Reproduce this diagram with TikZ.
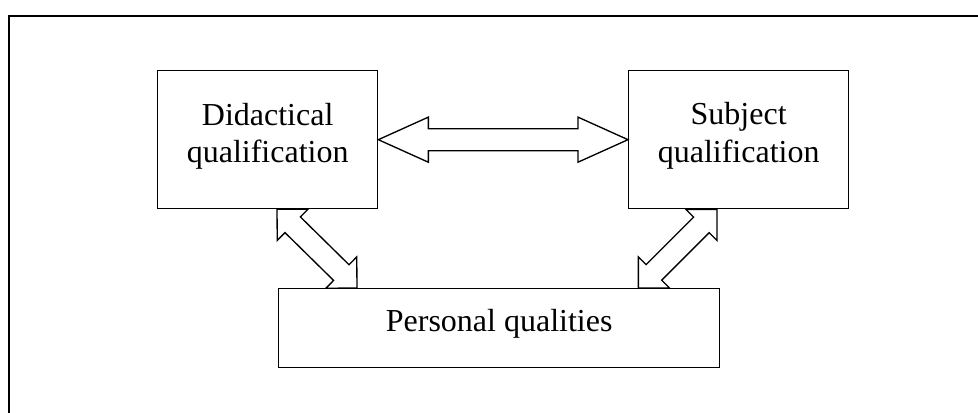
\documentclass[tikz,border=0pt]{standalone}
\usepackage{fontspec}
\setmainfont{Liberation Serif}
\usetikzlibrary{calc}

\tikzset{
  box/.style={draw, line width=1pt, inner sep=0pt, anchor=north west},
  boxtext/.style={font=\fontsize{24}{28}\selectfont, inner sep=0pt, anchor=base},
  blockarrow/.style={draw, line width=1pt, line join=miter},
  frameline/.style={draw, line width=1.3pt},
}

% Hollow double-headed block arrow between two points:
% #1, #2 tips, #3 head length, #4 head half-width, #5 shaft half-width
\newcommand\blockarrowpath[5]{%
  \path ($(#1)!#3!(#2)$) coordinate (ba) ($(#2)!#3!(#1)$) coordinate (bb);
  \draw[blockarrow] (#1) -- ($(ba)!#4!90:(#2)$) -- ($(ba)!#5!90:(#2)$)
    -- ($(bb)!#5!-90:(#1)$) -- ($(bb)!#4!-90:(#1)$) -- (#2)
    -- ($(bb)!#4!90:(#1)$) -- ($(bb)!#5!90:(#1)$)
    -- ($(ba)!#5!-90:(#2)$) -- ($(ba)!#4!-90:(#2)$) -- cycle;
}

\begin{document}
\begin{tikzpicture}[x=0.75pt, y=-0.75pt]
  \useasboundingbox (0,0) rectangle (978,412);

  % outer frame, running off the right and bottom edges
  \begin{scope}
    \clip (0,0) rectangle (978,412);
    \draw[frameline] (9,440) -- (9,16) -- (1000,16);
  \end{scope}

  % boxes
  \node[box, minimum width=165pt, minimum height=103.5pt] (dq) at (157,70) {};
  \node[box, minimum width=165pt, minimum height=103.5pt] (sq) at (628,70) {};
  \node[box, minimum width=330.75pt, minimum height=59.25pt] (pq) at (278,288) {};

  % box texts
  \node[boxtext] (dq1) at ($(dq.north)+(0,55)$) {Didactical};
  \node[boxtext] (dq2) at ($(dq.north)+(0,92)$) {qualification};
  \node[boxtext] (sq1) at ($(sq.north)+(0,54)$) {Subject};
  \node[boxtext] (sq2) at ($(sq.north)+(0,92)$) {qualification};
  \node[boxtext] (pq1) at ($(pq.north)+(0,43)$) {Personal qualities};

  % arrow ends on the box edges
  \coordinate (dl1) at ($(dq.south west)+(120,0)$);
  \coordinate (dl2) at ($(pq.north west)+(79,0)$);
  \coordinate (sr1) at ($(sq.south west)+(89,0)$);
  \coordinate (sr2) at ($(pq.north east)+(-82,0)$);

  % block arrows
  \blockarrowpath{dq.east}{sq.west}{37.5pt}{16.9pt}{8.25pt}
  \blockarrowpath{dl1}{dl2}{16.5pt}{16.5pt}{8.25pt}
  \blockarrowpath{sr1}{sr2}{16.5pt}{16.5pt}{8.25pt}
\end{tikzpicture}
\end{document}
